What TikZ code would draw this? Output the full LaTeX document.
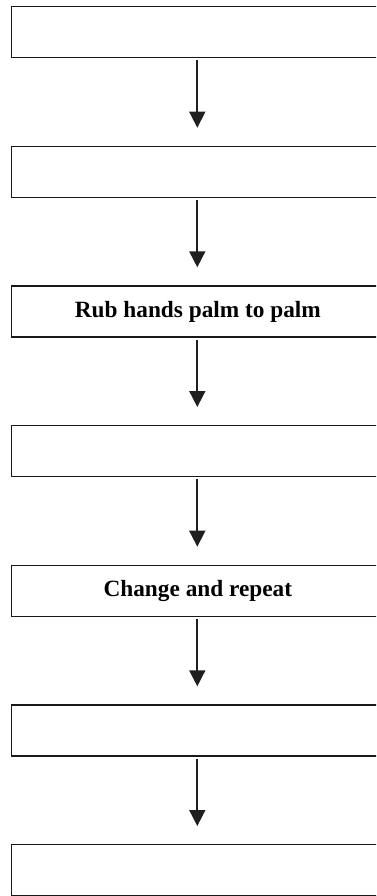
\documentclass[tikz,border=0pt]{standalone}
\usepackage{fontspec}
\setmainfont{Liberation Serif}
\usetikzlibrary{arrows.meta,calc}
\begin{document}
\begin{tikzpicture}[x=1pt,y=1pt,
  stepbox/.style={draw=black!90,line width=1.3pt,minimum width=373pt,minimum height=51pt,inner sep=0pt,
    font=\fontsize{23.3}{27}\selectfont\bfseries,anchor=north west},
  flow/.style={line width=1.7pt,draw=black!88,-{Triangle[width=16pt,length=16pt]}}]
\useasboundingbox (0,0) rectangle (376,-896);
\clip (0,0) rectangle (376,-896);
\node[stepbox] (b1) at (10.7,-6) {};
\node[stepbox] (b2) at (10.7,-145.7) {};
\node[stepbox] (b3) at (10.7,-285.3) {Rub hands palm to palm};
\node[stepbox] (b4) at (10.7,-425) {};
\node[stepbox] (b5) at (10.7,-564.7) {Change and repeat};
\node[stepbox] (b6) at (10.7,-704.3) {};
\node[stepbox] (b7) at (10.7,-844) {};
\foreach \a/\b in {b1/b2,b2/b3,b3/b4,b4/b5,b5/b6,b6/b7}{
  \draw[flow] ($(\a.south west)+(186.6,-2)$) -- ($(\b.north west)+(186.6,18)$);
}
\end{tikzpicture}
\end{document}
